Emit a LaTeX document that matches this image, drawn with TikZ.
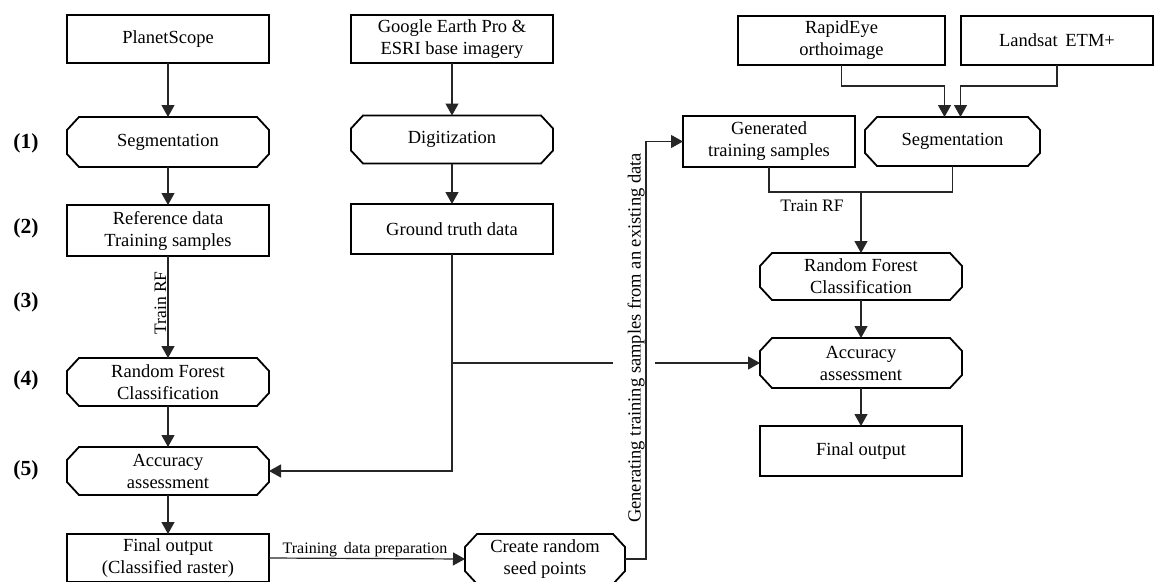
\documentclass[tikz,border=0pt]{standalone}
\usepackage{fontspec}
\setmainfont{Liberation Serif}
\usetikzlibrary{arrows.meta}
\tikzset{
  base/.style={inner sep=0pt,outer sep=0pt,align=center,font=\fontsize{18.5}{22}\selectfont},
  rbox/.style={base,draw=black,line width=1.8pt},
  obox/.style={base},
  boxline/.style={draw=black,line width=1.8pt,line join=miter},
  con/.style={draw=black!85,line width=1.2pt},
  arr/.style={con,-{Triangle[length=12pt,width=13pt]}},
  lab/.style={inner sep=1pt,font=\fontsize{17.5}{20}\selectfont},
  steplab/.style={inner sep=0pt,font=\fontsize{21.5}{24}\selectfont\bfseries},
}
\newcommand\octoutline[1]{%
  \draw[boxline] ([xshift=12pt]#1.north west) -- ([xshift=-12pt]#1.north east)
    -- ([yshift=-13pt]#1.north east) -- ([yshift=13pt]#1.south east)
    -- ([xshift=-12pt]#1.south east) -- ([xshift=12pt]#1.south west)
    -- ([yshift=13pt]#1.south west) -- ([yshift=-13pt]#1.north west) -- cycle;}
\begin{document}
\begin{tikzpicture}[x=1pt,y=-1pt]
\useasboundingbox[fill=white] (0,0) rectangle (1156,581);
% left column
\node[rbox,minimum width=202pt,minimum height=48pt] (ps) at (168,39) {PlanetScope};
\node[obox,minimum width=202pt,minimum height=50pt] (seg1) at (168,142) {Segmentation};
\octoutline{seg1}
\node[rbox,minimum width=202pt,minimum height=51pt] (ref) at (168,230.5) {Reference data\\Training samples};
\node[obox,minimum width=202pt,minimum height=48pt] (rf1) at (168,382) {Random Forest\\Classification};
\octoutline{rf1}
\node[obox,minimum width=202pt,minimum height=48pt] (acc1) at (168,471) {Accuracy\\assessment};
\octoutline{acc1}
\node[rbox,minimum width=202pt,minimum height=48pt] (fin1) at (168,558) {Final output\\(Classified raster)};
% middle column
\node[rbox,minimum width=202pt,minimum height=48pt] (ge) at (452,39) {Google Earth Pro \&\\ESRI base imagery};
\node[obox,minimum width=202pt,minimum height=48pt] (dig) at (452,139.5) {Digitization};
\octoutline{dig}
\node[rbox,minimum width=202pt,minimum height=50pt] (gt) at (452,229) {Ground truth data};
\node[obox,minimum width=160pt,minimum height=50pt] (crs) at (545,559) {Create random\\seed points};
\octoutline{crs}
% right column
\node[rbox,minimum width=207pt,minimum height=49pt] (rapid) at (841.5,40.5) {RapidEye\\orthoimage};
\node[rbox,minimum width=192pt,minimum height=49pt] (land) at (1057,40.5) {Landsat\, ETM+};
\node[rbox,minimum width=172pt,minimum height=51pt] (gen) at (769,141.5) {Generated\\training samples};
\node[obox,minimum width=175pt,minimum height=49pt] (seg2) at (952.5,141.5) {Segmentation};
\octoutline{seg2}
\node[obox,minimum width=202pt,minimum height=47pt] (rf2) at (861,276.5) {Random Forest\\Classification};
\octoutline{rf2}
\node[obox,minimum width=202pt,minimum height=50pt] (acc2) at (861,363) {Accuracy\\assessment};
\octoutline{acc2}
\node[rbox,minimum width=202pt,minimum height=50pt] (fin2) at (861,451) {Final output};
% step labels
\node[steplab] (s1) at (26,143) {(1)};
\node[steplab] (s2) at (26,228) {(2)};
\node[steplab] (s3) at (26,302) {(3)};
\node[steplab] (s4) at (26,380) {(4)};
\node[steplab] (s5) at (26,470) {(5)};
% helper coordinates
\coordinate (yr) at (0,86);
\coordinate (tr) at (0,192);
\coordinate (vx) at (646,0);
\coordinate (gapL) at (613,0);
\coordinate (gapR) at (655,0);
\coordinate (sA) at ([xshift=-8pt]seg2.north);
\coordinate (sB) at ([xshift=8pt]seg2.north);
% left connectors
\draw[arr] (ps) -- (seg1);
\draw[arr] (seg1) -- (ref);
\draw[arr] (ref) -- node[lab,rotate=90,above,pos=0.46] (trf1) {Train RF} (rf1);
\draw[arr] (rf1) -- (acc1);
\draw[arr] (acc1) -- (fin1);
% middle connectors
\draw[arr] (ge) -- (dig);
\draw[arr] (dig) -- (gt);
\draw[arr] (gt.south) |- (acc1.east);
\draw[con] (gt.south |- acc2.west) -- (gapL |- acc2.west);
\draw[arr] (gapR |- acc2.west) -- (acc2.west);
\draw[arr] (fin1.east) -- node[lab,above,pos=0.49,font=\fontsize{16}{18}\selectfont] (tdp) {Training\, data preparation} (crs.west);
\draw[arr] (crs.east) -| (vx |- gen.west) -- (gen.west);
\node[lab,rotate=90,font=\fontsize{18.5}{20}\selectfont] (gts) at (636,338) {Generating training samples from an existing data};
% right connectors
\draw[arr] (rapid.south) |- (sA |- yr) -- (sA);
\draw[arr] (land.south) |- (sB |- yr) -- (sB);
\draw[con] (gen.south) |- (seg2.south |- tr) -- (seg2.south);
\draw[arr] (rf2.north |- tr) -- (rf2.north);
\node[lab] (trf2) at (812,206) {Train RF};
\draw[arr] (rf2) -- (acc2);
\draw[arr] (acc2) -- (fin2);
\end{tikzpicture}
\end{document}
